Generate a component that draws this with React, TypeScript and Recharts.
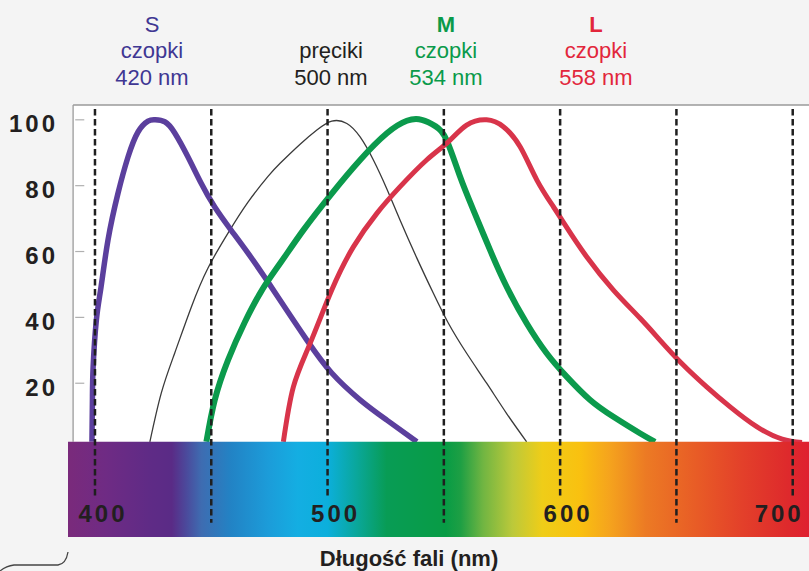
import React from "react"
import { LineChart, Line, XAxis, YAxis, ReferenceArea, ReferenceLine } from "recharts"

// wavelength (nm) vs relative sensitivity (%)
const sCone = [
  { nm: 398.7, v: 2.2 }, { nm: 398.9, v: 14.9 }, { nm: 399.2, v: 24.9 }, { nm: 400.6, v: 39.2 },
  { nm: 402.6, v: 49.2 }, { nm: 405.6, v: 63.5 }, { nm: 409.9, v: 77.7 }, { nm: 414.2, v: 88.7 },
  { nm: 418.5, v: 96.3 }, { nm: 422.8, v: 99.6 }, { nm: 425.8, v: 100 }, { nm: 430, v: 99.4 },
  { nm: 434.3, v: 96 }, { nm: 440, v: 88.7 }, { nm: 445.6, v: 80.8 }, { nm: 451.5, v: 73.5 },
  { nm: 458.5, v: 66.5 }, { nm: 465.8, v: 59.5 }, { nm: 473, v: 52.2 }, { nm: 479.6, v: 45.2 },
  { nm: 491.1, v: 33.1 }, { nm: 501.8, v: 23.1 }, { nm: 514.1, v: 14.9 }, { nm: 525.5, v: 8.8 },
  { nm: 538.4, v: 2.2 },
]
const rods = [
  { nm: 423.6, v: 2.2 }, { nm: 428.5, v: 17 }, { nm: 434.3, v: 29.2 }, { nm: 441.4, v: 43.1 },
  { nm: 448.6, v: 55 }, { nm: 457.2, v: 65.6 }, { nm: 465.8, v: 75 }, { nm: 474.4, v: 82.8 },
  { nm: 479.6, v: 86.8 }, { nm: 488.2, v: 92.6 }, { nm: 495.4, v: 96.9 }, { nm: 501.8, v: 99.6 },
  { nm: 508.3, v: 98.9 }, { nm: 514, v: 94.8 }, { nm: 519.7, v: 87.8 }, { nm: 525.5, v: 79 },
  { nm: 531.2, v: 69.5 }, { nm: 538.4, v: 58 }, { nm: 545.5, v: 47.3 }, { nm: 551.9, v: 38.3 },
  { nm: 559.8, v: 29.1 }, { nm: 568.4, v: 20 }, { nm: 577, v: 10.8 }, { nm: 585.6, v: 2.2 },
]
const mCone = [
  { nm: 447.9, v: 2.2 }, { nm: 451.5, v: 14.9 }, { nm: 457.2, v: 27 }, { nm: 464.4, v: 38.5 },
  { nm: 472, v: 48.5 }, { nm: 480, v: 56.8 }, { nm: 489.6, v: 66.5 }, { nm: 501.8, v: 77.6 },
  { nm: 514, v: 87.8 }, { nm: 525.5, v: 95.9 }, { nm: 534.1, v: 99.7 }, { nm: 540.5, v: 100 },
  { nm: 546.5, v: 98 }, { nm: 551.2, v: 93.8 }, { nm: 557, v: 82.7 }, { nm: 562.7, v: 72.6 },
  { nm: 569.9, v: 60.4 }, { nm: 577, v: 49.3 }, { nm: 585.6, v: 38.2 }, { nm: 594.2, v: 29.1 },
  { nm: 602.8, v: 22 }, { nm: 612.9, v: 14.9 }, { nm: 622.9, v: 9.8 }, { nm: 634.3, v: 4.8 },
  { nm: 640.8, v: 2.2 },
]
const lCone = [
  { nm: 481, v: 2.2 }, { nm: 485.3, v: 18.9 }, { nm: 492.5, v: 32.1 }, { nm: 501.8, v: 48.3 },
  { nm: 511.1, v: 61.4 }, { nm: 521.2, v: 71.6 }, { nm: 531.2, v: 79.7 }, { nm: 542.6, v: 87.8 },
  { nm: 551.9, v: 93.3 }, { nm: 559.8, v: 98.4 }, { nm: 568.4, v: 100 }, { nm: 575.6, v: 97.9 },
  { nm: 582.8, v: 91.8 }, { nm: 590, v: 81.7 }, { nm: 597.1, v: 73.6 }, { nm: 602.2, v: 68 },
  { nm: 611.4, v: 58.4 }, { nm: 622.9, v: 48.3 }, { nm: 634.3, v: 39.8 }, { nm: 642.9, v: 33.1 },
  { nm: 652.3, v: 26 }, { nm: 663, v: 18.9 }, { nm: 673.1, v: 12.8 }, { nm: 684.5, v: 6.8 },
  { nm: 695.5, v: 3 }, { nm: 704, v: 2 },
]

const xTicks = [400, 500, 600, 700]
const dashedLines = [400, 450, 500, 550, 600, 650, 700]
const yTicks = [20, 40, 60, 80, 100]

const X_DOMAIN: [number, number] = [388.4, 707]
const Y_DOMAIN: [number, number] = [-26.7, 104.5]
const PLOT_LEFT_NM = 390.6
const BAND_TOP = 2.2

const spectrumStops = [
  [0, "#7a2a7b"], [0.05, "#6f2b84"], [0.11, "#5f2b86"], [0.14, "#5a2b86"],
  [0.16, "#4b4a9c"], [0.18, "#3e6cb1"], [0.22, "#2283c5"], [0.27, "#1c9cd9"],
  [0.31, "#14aee2"], [0.35, "#0cafdc"], [0.39, "#0aa79a"], [0.43, "#089c55"],
  [0.51, "#089c45"], [0.53, "#1e9f44"], [0.56, "#70b542"], [0.6, "#bcc93a"],
  [0.64, "#efcd18"], [0.69, "#f9c110"], [0.73, "#f5a41d"], [0.78, "#ec7a24"],
  [0.85, "#e85b26"], [0.91, "#e3402a"], [0.97, "#de2a2c"], [1, "#df2030"],
] as const

const font = "'Liberation Sans', Arial, sans-serif"

function ValueTick({ x, y, payload }: any) {
  return (
    <text x={x - 2} y={y + 4} dy="0.355em" textAnchor="end" fontFamily={font} fontWeight={700}
      fontSize={24} letterSpacing={3} fill="#231f20">
      {payload.value}
    </text>
  )
}

function WaveTick({ x, y, payload }: any) {
  const last = payload.value === xTicks[xTicks.length - 1]
  return (
    <text x={last ? x + 11 : x + 8} y={y - 32} dy="0.355em" textAnchor={last ? "end" : "middle"}
      fontFamily={font} fontWeight={700} fontSize={24} letterSpacing={3} fill="#231f20">
      {payload.value}
    </text>
  )
}

const headLabels = [
  { cx: 152, color: "#3f3793", lines: ["S", "czopki", "420 nm"], bold: false },
  { cx: 331, color: "#231f20", lines: ["", "pręciki", "500 nm"], bold: false },
  { cx: 446, color: "#0a9a4a", lines: ["M", "czopki", "534 nm"], bold: true },
  { cx: 596, color: "#e2263b", lines: ["L", "czopki", "558 nm"], bold: true },
]

export default function App() {
  return (
    <div style={{ position: "relative", width: 809, height: 571, background: "#f4f4f4", fontFamily: font }}>
      <style>{`body{margin:0}`}</style>
      {headLabels.map((h) => (
        <div key={h.cx} style={{ position: "absolute", left: h.cx - 60, top: 11.5, width: 120, textAlign: "center",
          color: h.color, fontSize: 22, lineHeight: "26.5px" }}>
          {h.lines.map((t, i) => (
            <div key={i} style={{ fontWeight: i === 0 && h.bold ? 700 : 400, height: 26.5 }}>{t}</div>
          ))}
        </div>
      ))}
      <LineChart width={809} height={571} margin={{ top: 105, right: 0, bottom: 4, left: 0 }}
        style={{ position: "absolute", left: 0, top: 0 }}>
        <defs>
          <linearGradient id="spectrum" x1="0" y1="0" x2="1" y2="0">
            {spectrumStops.map(([o, c]) => <stop key={o} offset={o} stopColor={c} />)}
          </linearGradient>
        </defs>
        <ReferenceArea x1={PLOT_LEFT_NM} x2={X_DOMAIN[1]} y1={BAND_TOP} y2={Y_DOMAIN[1]}
          fill="#ffffff" fillOpacity={1} stroke="none" zIndex={50} />
        <ReferenceLine segment={[{ x: PLOT_LEFT_NM, y: BAND_TOP }, { x: PLOT_LEFT_NM, y: Y_DOMAIN[1] }]}
          stroke="#a8a8a8" strokeWidth={1.5} zIndex={60} />
        <ReferenceLine segment={[{ x: PLOT_LEFT_NM, y: Y_DOMAIN[1] }, { x: X_DOMAIN[1], y: Y_DOMAIN[1] }]}
          stroke="#9a9a9a" strokeWidth={1.5} zIndex={60} />
        {yTicks.map((t) => (
          <ReferenceLine key={t} segment={[{ x: 391.5, y: t }, { x: 395.4, y: t }]}
            stroke="#b0b0b0" strokeWidth={1.2} zIndex={60} />
        ))}
        <Line data={rods} dataKey="v" type="natural" stroke="#3a3a3a" strokeWidth={1.3}
          dot={false} isAnimationActive={false} />
        <Line data={sCone} dataKey="v" type="natural" stroke="#5b3f9d" strokeWidth={5.5}
          dot={false} isAnimationActive={false} />
        <Line data={mCone} dataKey="v" type="natural" stroke="#0b9a4c" strokeWidth={6}
          dot={false} isAnimationActive={false} />
        <Line data={lCone} dataKey="v" type="natural" stroke="#d8344a" strokeWidth={5}
          dot={false} isAnimationActive={false} />
        <ReferenceArea x1={X_DOMAIN[0]} x2={X_DOMAIN[1]} y1={Y_DOMAIN[0]} y2={BAND_TOP}
          fill="url(#spectrum)" fillOpacity={1} stroke="none" zIndex={450} />
        {dashedLines.map((d) => (
          <ReferenceLine key={d}
            segment={[{ x: d, y: 103.3 }, { x: d, y: xTicks.includes(d) ? -14.5 : -22.4 }]}
            stroke="#1f1f1f" strokeWidth={2.5} strokeDasharray="6.5 3.5" zIndex={460} />
        ))}
        <XAxis type="number" dataKey="nm" domain={X_DOMAIN} ticks={xTicks} allowDataOverflow
          axisLine={false} tickLine={false} height={30} tick={<WaveTick />} />
        <YAxis type="number" domain={Y_DOMAIN} ticks={yTicks} allowDataOverflow
          axisLine={false} tickLine={false} width={68} tick={<ValueTick />} />
      </LineChart>
      <div style={{ position: "absolute", left: 259, width: 300, top: 548, textAlign: "center",
        fontSize: 22, fontWeight: 700, lineHeight: "22px", color: "#231f20" }}>
        Długość fali (nm)
      </div>
      <svg width={80} height={30} style={{ position: "absolute", left: 0, top: 541 }}>
        <path d="M0 30 Q6 25 14 24 L58 24 Q66 23 68 11" stroke="#444" strokeWidth={1.3} fill="none" />
      </svg>
    </div>
  )
}
